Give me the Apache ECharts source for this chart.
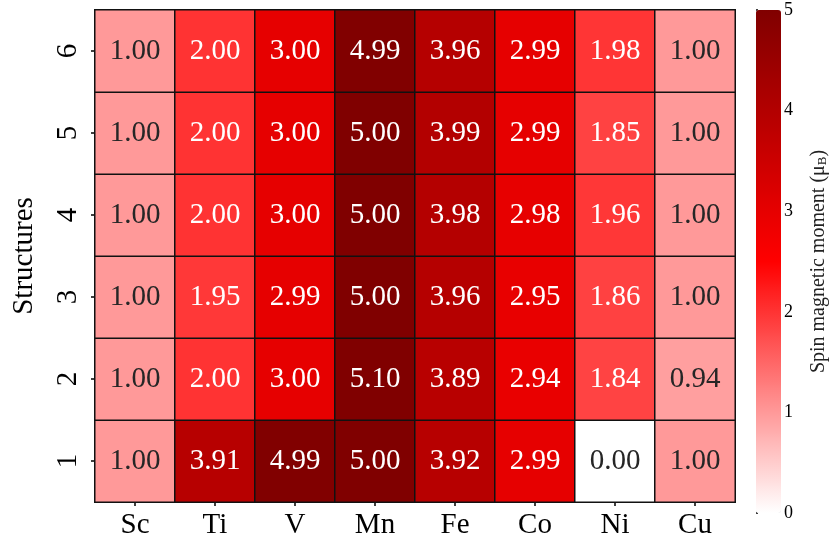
<!DOCTYPE html>
<html>
<head>
<meta charset="utf-8">
<script src="https://cdn.jsdelivr.net/npm/echarts@6/dist/echarts.min.js"></script>
<style>html,body{margin:0;padding:0;background:#fff;}#c{width:830px;height:549px;}</style>
</head>
<body>
<div id="c"></div>
<script>
const elements = ['Sc','Ti','V','Mn','Fe','Co','Ni','Cu'];
const structures = ['1','2','3','4','5','6'];
const s1 = [1.00, 3.91, 4.99, 5.00, 3.92, 2.99, 0.00, 1.00];
const s2 = [1.00, 2.00, 3.00, 5.10, 3.89, 2.94, 1.84, 0.94];
const s3 = [1.00, 1.95, 2.99, 5.00, 3.96, 2.95, 1.86, 1.00];
const s4 = [1.00, 2.00, 3.00, 5.00, 3.98, 2.98, 1.96, 1.00];
const s5 = [1.00, 2.00, 3.00, 5.00, 3.99, 2.99, 1.85, 1.00];
const s6 = [1.00, 2.00, 3.00, 4.99, 3.96, 2.99, 1.98, 1.00];
const colorbarTicks = [0, 1, 2, 3, 4, 5];

const rows = [s1, s2, s3, s4, s5, s6];
const data = [];
rows.forEach((row, yi) => {
  row.forEach((v, xi) => {
    data.push({
      value: [xi, yi, v],
      label: { color: v < 1.5 ? '#262626' : '#ffffff' }
    });
  });
});

const FONT = '"Liberation Serif", "DejaVu Serif", serif';
const chart = echarts.init(document.getElementById('c'), null, { renderer: 'canvas' });
chart.setOption({
  animation: false,
  backgroundColor: '#ffffff',
  grid: [
    { left: 95, top: 10, width: 640, height: 492 },
    { left: 756, top: 10, width: 25, height: 503, show: false }
  ],
  xAxis: [
    {
      type: 'category', data: elements, gridIndex: 0,
      axisLine: { show: false },
      axisTick: { show: true, length: 4, alignWithLabel: true, lineStyle: { color: '#000', width: 1.5 } },
      axisLabel: { fontFamily: FONT, fontSize: 29, color: '#000', margin: 9 },
      splitLine: { show: false }
    },
    { type: 'value', gridIndex: 1, show: false, min: 0, max: 1 }
  ],
  yAxis: [
    {
      type: 'category', data: structures, gridIndex: 0,
      name: 'Structures', nameLocation: 'middle', nameRotate: 90, nameGap: 56,
      nameTextStyle: { fontFamily: FONT, fontSize: 29, color: '#000' },
      axisLine: { show: false },
      axisTick: { show: true, length: 4, alignWithLabel: true, lineStyle: { color: '#000', width: 1.5 } },
      axisLabel: { fontFamily: FONT, fontSize: 29, color: '#000', rotate: 90, margin: 12 },
      splitLine: { show: false }
    },
    {
      type: 'value', gridIndex: 1, position: 'right', min: 0, max: 5, interval: 1,
      name: 'Spin magnetic moment (μ{sub|B})',
      nameLocation: 'middle', nameRotate: 90, nameGap: 30,
      nameTextStyle: { fontFamily: FONT, fontSize: 20, color: '#222',
        rich: { sub: { fontFamily: FONT, fontSize: 13, color: '#222', padding: [8,0,0,0] } } },
      axisLine: { show: false },
      axisTick: { show: true, length: 2, lineStyle: { color: '#000', width: 1.5 } },
      axisLabel: { fontFamily: FONT, fontSize: 18, color: '#000', margin: 6,
        formatter: v => colorbarTicks.includes(v) ? String(v) : '' },
      splitLine: { show: false }
    }
  ],
  visualMap: {
    type: 'continuous', min: 0, max: 5, seriesIndex: 0,
    show: true, calculable: false, hoverLink: false,
    orient: 'vertical', left: 756, top: 10, itemWidth: 25, itemHeight: 503,
    padding: 0, text: null,
    inRange: { color: ['#ffffff', '#ff0000', '#800000'] }
  },
  series: [
    {
      type: 'heatmap', xAxisIndex: 0, yAxisIndex: 0,
      data: data,
      itemStyle: { borderColor: '#111', borderWidth: 1.5 },
      label: {
        show: true, fontFamily: FONT, fontSize: 29,
        formatter: p => p.value[2].toFixed(2)
      },
      emphasis: { disabled: true }
    }
  ]
});
</script>
</body>
</html>
